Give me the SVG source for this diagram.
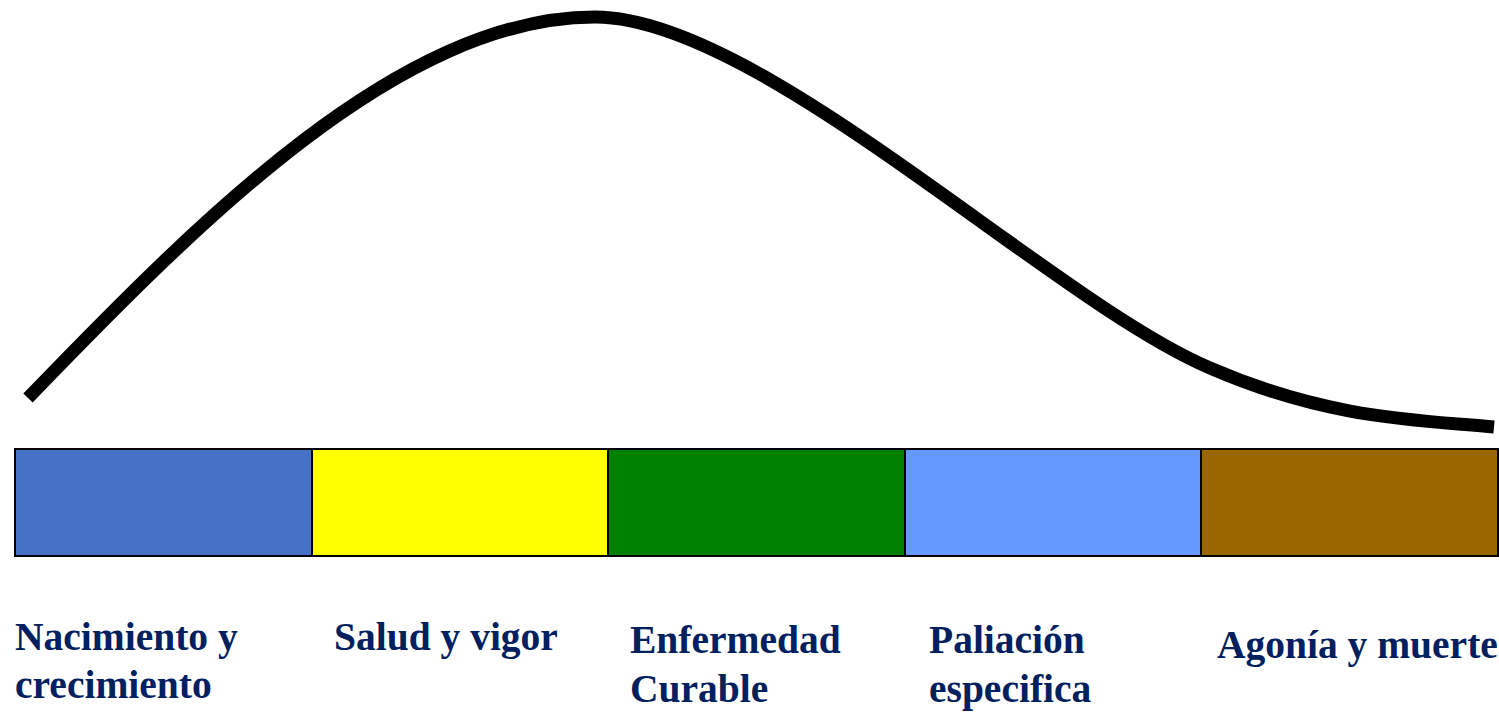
<svg xmlns="http://www.w3.org/2000/svg" width="1499" height="713" viewBox="0 0 1499 713">
<style>
.seg{stroke:#000;stroke-width:2}
.lbl{font-family:"Liberation Serif","Times New Roman",serif;font-weight:bold;font-size:39.5px;fill:#002060}
</style>
<rect width="1499" height="713" fill="#fff"/>
<g id="connectors">
<path d="M28,398 C200,220 400,17 595,17 C760,17 1050,300 1210,368 C1330,420 1420,420 1494,427" fill="none" stroke="#000" stroke-width="13"/>
</g>
<g id="n1"><rect class="seg" x="15" y="449" width="297" height="107" fill="#4472C4"/>
<text class="lbl" x="15" y="650">Nacimiento y</text><text class="lbl" x="15" y="698">crecimiento</text></g>
<g id="n2"><rect class="seg" x="312" y="449" width="296" height="107" fill="#FFFF00"/>
<text class="lbl" x="334" y="650">Salud y vigor</text></g>
<g id="n3"><rect class="seg" x="608" y="449" width="297" height="107" fill="#008000"/>
<text class="lbl" x="630" y="653">Enfermedad</text><text class="lbl" x="630" y="702">Curable</text></g>
<g id="n4"><rect class="seg" x="905" y="449" width="296" height="107" fill="#6699FF"/>
<text class="lbl" x="929" y="653">Paliación</text><text class="lbl" x="929" y="702">especifica</text></g>
<g id="n5"><rect class="seg" x="1201" y="449" width="297" height="107" fill="#996600"/>
<text class="lbl" x="1217" y="658">Agonía y muerte</text></g>
</svg>
